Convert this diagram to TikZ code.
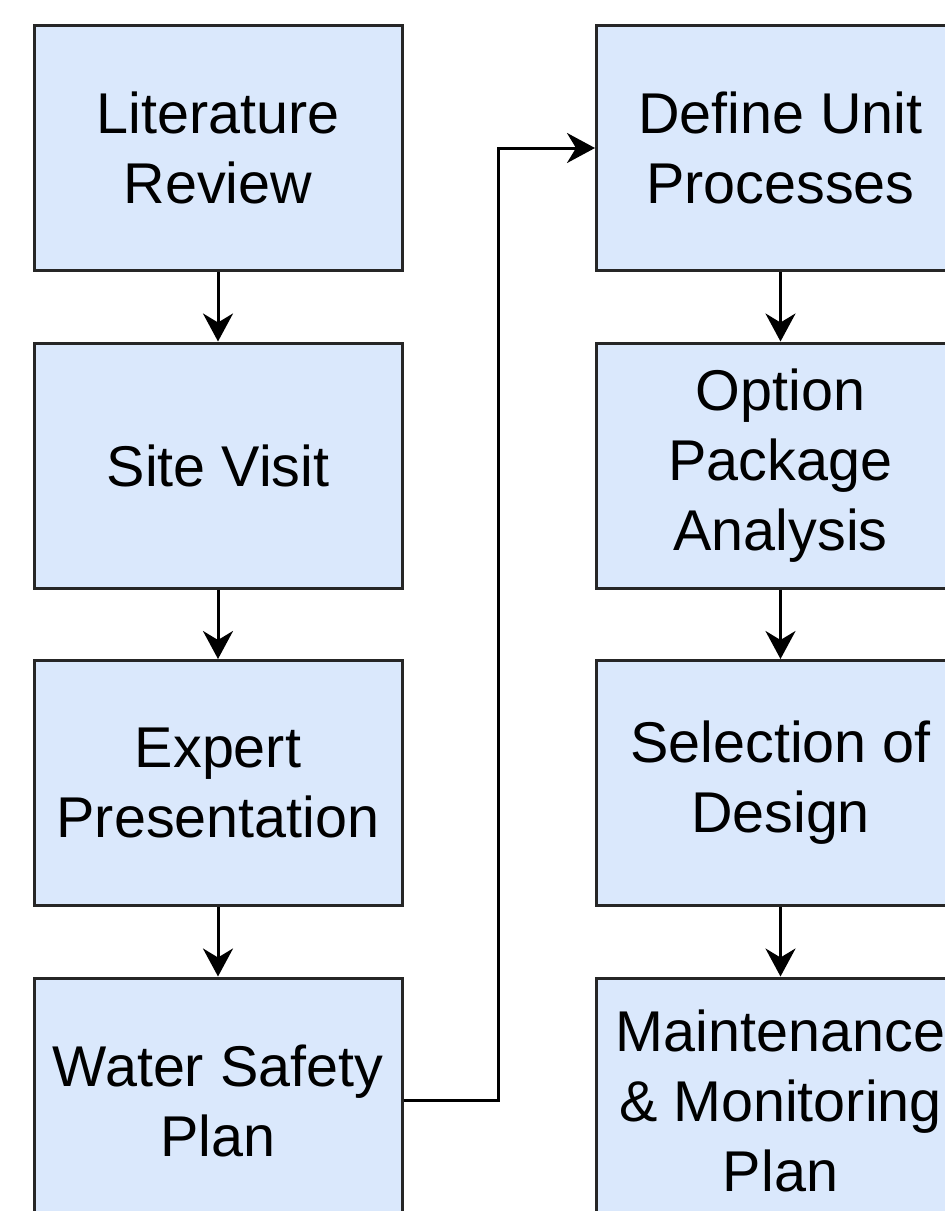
\documentclass[tikz,border=0pt]{standalone}
\usepackage{fontspec}
\setmainfont{Liberation Sans}
\usetikzlibrary{arrows.meta}
\definecolor{boxfill}{HTML}{DAE8FC}
\definecolor{boxline}{HTML}{262626}
\begin{document}
\begin{tikzpicture}[x=1pt,y=-1pt,
  stepbox/.style={draw=boxline, fill=boxfill, line width=3pt,
    minimum width=368pt, minimum height=245pt, inner sep=0pt,
    align=center, font=\fontsize{57.5}{70}\selectfont},
  arr/.style={draw=black, line width=3pt,
    -{Stealth[length=28pt, width=30pt, inset=9pt]}}]
\useasboundingbox (0,0) rectangle (945,1211);

% left column
\node[stepbox] (lit) at (218,148)    {Literature\\Review};
\node[stepbox] (site) at (218,465.5) {Site Visit};
\node[stepbox] (exp) at (218,783)    {Expert\\Presentation};
\node[stepbox] (wsp) at (218,1100.5) {Water Safety\\Plan};

% right column
\node[stepbox] (dup) at (780.5,148)    {Define Unit\\Processes};
\node[stepbox] (opa) at (780.5,465.5)  {Option\\Package\\Analysis};
\node[stepbox] (sel) at (780.5,783)    {Selection of\\Design};
\node[stepbox] (mmp) at (780.5,1100.5) {Maintenance\\\& Monitoring\\Plan};

% connectors
\draw[arr] (lit) -- (site);
\draw[arr] (site) -- (exp);
\draw[arr] (exp) -- (wsp);
\draw[arr] (wsp.east) -- ++(95,0) |- (dup.west);
\draw[arr] (dup) -- (opa);
\draw[arr] (opa) -- (sel);
\draw[arr] (sel) -- (mmp);
\end{tikzpicture}
\end{document}
